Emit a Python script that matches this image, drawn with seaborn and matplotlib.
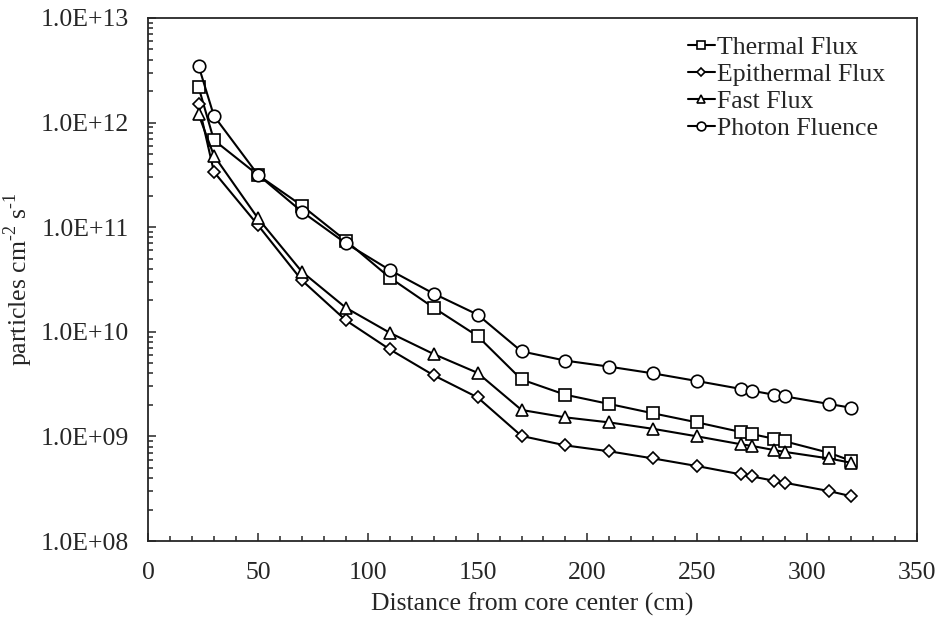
import math
import pandas as pd
import matplotlib
matplotlib.use('Agg')
import matplotlib.pyplot as plt
import matplotlib.ticker as mticker
import seaborn as sns

# datos
distance = [23, 30, 50, 70, 90, 110, 130, 150, 170, 190, 210, 230, 250, 270, 275, 285, 290, 310, 320]
thermal = [2.19e12, 6.8e11, 3.16e11, 1.61e11, 7.45e10, 3.3e10, 1.70e10, 9.1e9, 3.5e9, 2.5e9,
           2.04e9, 1.66e9, 1.36e9, 1.10e9, 1.05e9, 9.5e8, 8.95e8, 6.97e8, 5.85e8]
epithermal = [1.50e12, 3.38e11, 1.05e11, 3.11e10, 1.29e10, 6.8e9, 3.84e9, 2.36e9, 1.01e9, 8.2e8,
              7.2e8, 6.15e8, 5.2e8, 4.33e8, 4.14e8, 3.76e8, 3.6e8, 3.0e8, 2.68e8]
fast = [1.2e12, 4.84e11, 1.22e11, 3.76e10, 1.70e10, 9.8e9, 6.13e9, 4.05e9, 1.79e9, 1.52e9,
        1.36e9, 1.18e9, 1.0e9, 8.4e8, 8.1e8, 7.4e8, 7.1e8, 6.15e8, 5.6e8]
photon = [3.5e12, 1.16e12, 3.18e11, 1.41e11, 7.03e10, 3.9e10, 2.32e10, 1.46e10, 6.5e9, 5.3e9,
          4.64e9, 4.0e9, 3.38e9, 2.84e9, 2.73e9, 2.5e9, 2.41e9, 2.04e9, 1.88e9]
series_names = ['Thermal Flux', 'Epithermal Flux', 'Fast Flux', 'Photon Fluence']
marker_map = {'Thermal Flux': 's', 'Epithermal Flux': 'D', 'Fast Flux': '^', 'Photon Fluence': 'o'}

df = pd.DataFrame({
    'Distance': distance * 4,
    'Flux': thermal + epithermal + fast + photon,
    'Serie': [n for n in series_names for _ in distance],
})

sns.set_style('ticks')
plt.rcParams['font.family'] = ['Liberation Serif', 'DejaVu Serif']
plt.rcParams['mathtext.fontset'] = 'custom'
plt.rcParams['mathtext.rm'] = 'Liberation Serif'
FS = 18.5

fig = plt.figure(figsize=(9.41, 6.26), dpi=100)
ax = fig.add_axes([148 / 941, 85 / 626, 769 / 941, 523 / 626])

sns.lineplot(data=df, x='Distance', y='Flux', hue='Serie', style='Serie',
             palette=['black'] * 4, markers=marker_map, dashes=False, legend=False,
             linewidth=1.5, markersize=9, markerfacecolor='white',
             markeredgecolor='black', markeredgewidth=1.2, ax=ax)

# tamaños propios de cada marcador
sizes = {'s': 8.5, 'D': 6.5, '^': 9, 'o': 9}
for line in ax.get_lines():
    line.set_markersize(sizes.get(line.get_marker(), 9))

ax.set_yscale('log')
ax.set_xlim(0, 350)
ax.set_ylim(1e8, 1e13)
ax.xaxis.set_major_locator(mticker.MultipleLocator(50))
ax.xaxis.set_minor_locator(mticker.MultipleLocator(10))
ax.yaxis.set_major_locator(mticker.LogLocator(base=10, numticks=10))
ax.yaxis.set_minor_locator(mticker.LogLocator(base=10, subs=range(2, 10), numticks=10))
ax.yaxis.set_major_formatter(mticker.FuncFormatter(lambda v, p: '1.0E+%02d' % round(math.log10(v))))
ax.yaxis.set_minor_formatter(mticker.NullFormatter())
ax.tick_params(which='both', direction='in', top=False, right=False, labelsize=FS, width=1.1)
ax.tick_params(which='major', length=6)
ax.tick_params(which='minor', length=3.5)
ax.tick_params(axis='y', which='major', pad=14)
ax.tick_params(axis='x', which='major', pad=15)
for sp in ax.spines.values():
    sp.set_linewidth(1.3)

ax.set_xlabel('Distance from core center (cm)', fontsize=FS, labelpad=6)
ax.set_ylabel(r'particles cm$^{\text{-2}}$ s$^{\text{-1}}$', fontsize=FS, labelpad=4)

ax.legend(handles=ax.get_lines()[:4], labels=series_names, loc='upper left',
          bbox_to_anchor=(0.702, 0.965), frameon=False, fontsize=FS, markerscale=0.7,
          handlelength=1.05, handletextpad=0.1, labelspacing=0.15, borderpad=0, borderaxespad=0)

plt.savefig('out.png', dpi=100)
